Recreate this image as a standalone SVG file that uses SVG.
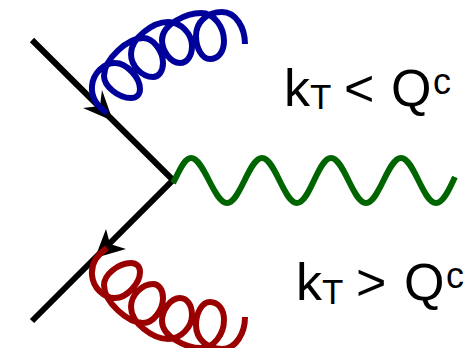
<svg xmlns="http://www.w3.org/2000/svg" width="469" height="348" viewBox="0 0 469 348">
<style>
.l{fill:none;stroke:#000;stroke-width:6}
.g{fill:none;stroke-width:6;stroke-linejoin:round}
text{font-family:"Liberation Sans",Arial,sans-serif;fill:#000}
.b{font-size:52px}.s{font-size:35px}.c{font-size:36px}
</style>
<defs>
<path id="coil" d="M107,113 C98,107 91,98 92,86 C93,73 104,63 115,63 C127,63 140,78 140,89 C140,95 136,98 131,98 C118,98 104,86 104,76 C104,59 128,38 143,38 C154,38 163,52 163,63 C163,71 159,77 153,77 C142,77 131,66 131,54 C131,38 153,22 168,22 C181,22 192,34 192,46 C192,56 187,63 180,63 C170,63 162,50 162,40 C162,24 187,13 201,13 C214,13 224,27 224,41 C224,52 218,59 210,59 C202,59 196,48 196,36 C196,22 207,12 222,12 C236,12 245,28 245,44"/>
</defs>
<g id="connectors">
<path id="quark-lines" class="l" d="M32,40 L173,180 L32,321"/>
<polygon id="arrow-top" points="102,90 100,106 83,108 113,121"/>
<polygon id="arrow-bottom" points="106,229 110,244 126,249 95,258"/>
<path id="photon" class="g" stroke="#006400" d="M173,183 C179,172 184,158 191,158 C204,158 214,203 227,203 C240,203 249,158 262,158 C275,158 284,203 297,203 C310,203 318,158 331,158 C344,158 353,203 366,203 C379,203 388,158 401,158 C414,158 423,203 436,203 C444,203 450,187 455,177"/>
<use id="gluon-blue" href="#coil" class="g" stroke="#00009b"/>
<use id="gluon-red" href="#coil" class="g" stroke="#9b0000" transform="matrix(1 0 0 -1 0 361)"/>
</g>
<g id="label-top">
<text class="b" x="284" y="106">k</text><text class="s" x="310" y="109">T</text><text class="b" x="344" y="106">&lt;</text><text class="b" x="391" y="106">Q</text><text class="c" x="433" y="94">c</text>
</g>
<g id="label-bottom">
<text class="b" x="296" y="300">k</text><text class="s" x="322" y="304">T</text><text class="b" x="356" y="300">&gt;</text><text class="b" x="404" y="300">Q</text><text class="c" x="446" y="288">c</text>
</g>
</svg>
